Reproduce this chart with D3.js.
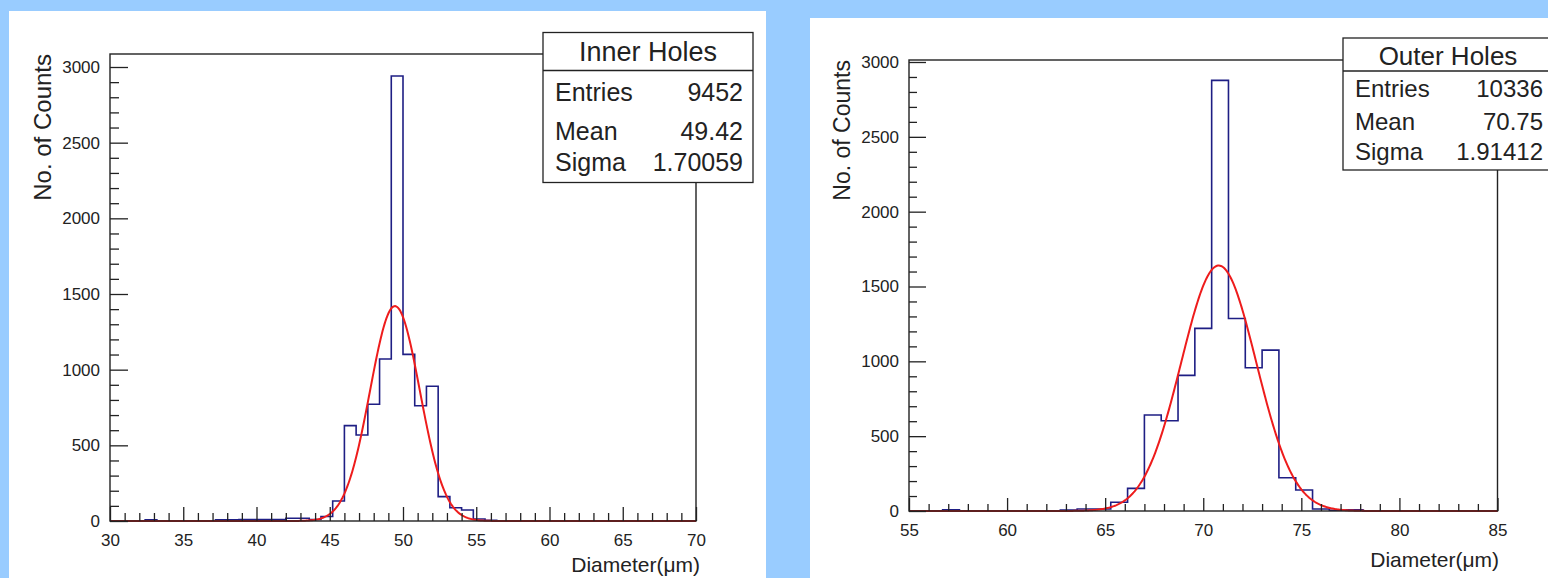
<!DOCTYPE html>
<html>
<head>
<meta charset="utf-8">
<script src="https://cdn.jsdelivr.net/npm/d3@7"></script>
<style>
  html, body { margin: 0; padding: 0; background: #99ccff; }
  svg { display: block; }
  text { font-family: "Liberation Sans", Arial, Helvetica, sans-serif; fill: #222; }
</style>
</head>
<body>
<svg id="chart" width="1548" height="578"></svg>
<script>
// ---------------- data ----------------
const yTicks = [0, 500, 1000, 1500, 2000, 2500, 3000];
const statLabels = ["Entries", "Mean", "Sigma"];

// Inner holes: 50 bins of 0.8 µm from 30 to 70
const innerTitle = "Inner Holes";
const innerBinStart = 30;
const innerBinWidth = 0.8;
const innerCounts = [
  0, 0, 0, 8, 0, 0, 0, 0, 0, 8,
  8, 10, 10, 10, 10, 18, 18, 10, 30, 132,
  630, 568, 771, 1070, 2941, 1101, 762, 890, 161, 88,
  73, 13, 5, 0, 0, 0, 0, 0, 0, 0,
  0, 0, 0, 0, 0, 0, 0, 0, 0, 0
];
const innerXTicks = [30, 35, 40, 45, 50, 55, 60, 65, 70];
const innerStats = ["9452", "49.42", "1.70059"];
const innerFit = [1420, 49.45, 1.70];   // amplitude, mean, sigma

// Outer holes: 35 bins of 6/7 µm from 55 to 85
const outerTitle = "Outer Holes";
const outerBinStart = 55;
const outerBinWidth = 30 / 35;
const outerCounts = [
  0, 0, 8, 0, 0, 0, 0, 0, 0, 7,
  13, 13, 58, 151, 641, 603, 906, 1220, 2877, 1286,
  957, 1075, 222, 140, 13, 5, 8, 0, 0, 0,
  0, 0, 0, 0, 0
];
const outerXTicks = [55, 60, 65, 70, 75, 80, 85];
const outerStats = ["10336", "70.75", "1.91412"];
const outerFit = [1640, 70.79, 1.91];

// ---------------- drawing ----------------
const svg = d3.select("#chart");
svg.append("rect").attr("x", 0).attr("y", 0).attr("width", 1548).attr("height", 578).attr("fill", "#99ccff");
svg.append("rect").attr("x", 9).attr("y", 11).attr("width", 757).attr("height", 567).attr("fill", "#ffffff");
svg.append("rect").attr("x", 810).attr("y", 18).attr("width", 738).attr("height", 560).attr("fill", "#ffffff");

function drawPanel(p) {
  const g = svg.append("g");
  const x = d3.scaleLinear().domain(p.xDomain).range([p.left, p.right]);
  const y = d3.scaleLinear().domain([0, 3000]).range([p.bottom, p.y3000]);

  // histogram outline
  const pts = [[x(p.binStart), y(0)]];
  p.counts.forEach((c, i) => {
    const a = p.binStart + i * p.binWidth, b = a + p.binWidth;
    pts.push([x(a), y(c)], [x(b), y(c)]);
  });
  pts.push([x(p.binStart + p.counts.length * p.binWidth), y(0)]);
  g.append("path").attr("d", d3.line()(pts))
    .attr("fill", "none").attr("stroke", "#1e1e84").attr("stroke-width", 1.6)
    .attr("stroke-linejoin", "miter");

  // gaussian fit
  const [amp, mu, sg] = p.fit;
  const xs = d3.range(p.xDomain[0], p.xDomain[1] + 1e-9, (p.xDomain[1] - p.xDomain[0]) / 600);
  g.append("path")
    .attr("d", d3.line().x(v => x(v)).y(v => y(amp * Math.exp(-0.5 * ((v - mu) / sg) ** 2)))(xs))
    .attr("fill", "none").attr("stroke", "#ee1c1c").attr("stroke-width", 2);

  // x axis
  const minorX = d3.range(p.xDomain[0], p.xDomain[1] + 1e-9, 1).filter(v => v % 5 !== 0);
  const ax1 = g.append("g").attr("transform", `translate(0,${p.bottom})`)
    .call(d3.axisBottom(x).tickValues(p.xTicks).tickSize(-p.xMajor).tickSizeOuter(0).tickPadding(13).tickFormat(d3.format("d")));
  const ax2 = g.append("g").attr("transform", `translate(0,${p.bottom})`)
    .call(d3.axisBottom(x).tickValues(minorX).tickSize(-p.xMinor).tickSizeOuter(0).tickFormat(""));
  // y axis
  const minorY = d3.range(0, 3001, 100).filter(v => v % 500 !== 0);
  const ay1 = g.append("g").attr("transform", `translate(${p.left},0)`)
    .call(d3.axisLeft(y).tickValues(yTicks).tickSize(-p.yMajor).tickSizeOuter(0).tickPadding(10).tickFormat(d3.format("d")));
  const ay2 = g.append("g").attr("transform", `translate(${p.left},0)`)
    .call(d3.axisLeft(y).tickValues(minorY).tickSize(-p.yMinor).tickSizeOuter(0).tickFormat(""));
  [ax1, ax2, ay1, ay2].forEach(a => {
    a.select(".domain").remove();
    a.selectAll("line").attr("stroke", "#222").attr("stroke-width", 1.3);
    a.selectAll("text").attr("font-size", 17).attr("font-family", '"Liberation Sans", Arial, sans-serif').attr("fill", "#222");
  });

  // frame
  g.append("rect").attr("x", p.left).attr("y", p.frameTop)
    .attr("width", p.right - p.left).attr("height", p.bottom - p.frameTop)
    .attr("fill", "none").attr("stroke", "#222").attr("stroke-width", 1.4);

  // axis titles
  g.append("text").attr("transform", `translate(${p.yTitleX},${p.frameTop}) rotate(-90)`)
    .attr("text-anchor", "end").attr("font-size", p.yTitleSize).text("No. of Counts");
  g.append("text").attr("x", p.xTitleX).attr("y", p.xTitleY)
    .attr("text-anchor", "end").attr("font-size", 21).text("Diameter(μm)");

  // stats box
  const b = p.box;
  g.append("rect").attr("x", b.x).attr("y", b.y).attr("width", b.w).attr("height", b.h)
    .attr("fill", "#fff").attr("stroke", "#222").attr("stroke-width", 1.3);
  g.append("line").attr("x1", b.x).attr("x2", b.x + b.w).attr("y1", b.div).attr("y2", b.div)
    .attr("stroke", "#222").attr("stroke-width", 1.3);
  g.append("text").attr("x", b.titleX).attr("y", b.titleY).attr("text-anchor", "middle")
    .attr("font-size", b.titleSize).text(p.title);
  statLabels.forEach((lab, i) => {
    g.append("text").attr("x", b.labX).attr("y", b.rows[i]).attr("font-size", b.size).text(lab);
    g.append("text").attr("x", b.valX).attr("y", b.rows[i]).attr("text-anchor", "end")
      .attr("font-size", b.size).text(p.stats[i]);
  });
}

drawPanel({
  title: innerTitle, counts: innerCounts, binStart: innerBinStart, binWidth: innerBinWidth,
  xDomain: [30, 70], xTicks: innerXTicks, stats: innerStats, fit: innerFit,
  left: 110, right: 696, bottom: 521, y3000: 67, frameTop: 54,
  xMajor: 14, xMinor: 8, yMajor: 18, yMinor: 9,
  yTitleX: 50.5, yTitleSize: 24, xTitleX: 700, xTitleY: 572,
  box: { x: 543, y: 32.5, w: 210, h: 150, div: 70.5, titleX: 648, titleY: 61, titleSize: 27,
         labX: 555, valX: 743, size: 25, rows: [101, 139.5, 171] }
});

drawPanel({
  title: outerTitle, counts: outerCounts, binStart: outerBinStart, binWidth: outerBinWidth,
  xDomain: [55, 85], xTicks: outerXTicks, stats: outerStats, fit: outerFit,
  left: 909, right: 1497.5, bottom: 511, y3000: 62, frameTop: 60,
  xMajor: 13, xMinor: 7, yMajor: 17, yMinor: 8,
  yTitleX: 849.5, yTitleSize: 23, xTitleX: 1499, xTitleY: 567,
  box: { x: 1343, y: 38, w: 212, h: 132, div: 71, titleX: 1448, titleY: 64.5, titleSize: 26,
         labX: 1355, valX: 1543, size: 24, rows: [97, 130, 159.5] }
});
</script>
</body>
</html>
